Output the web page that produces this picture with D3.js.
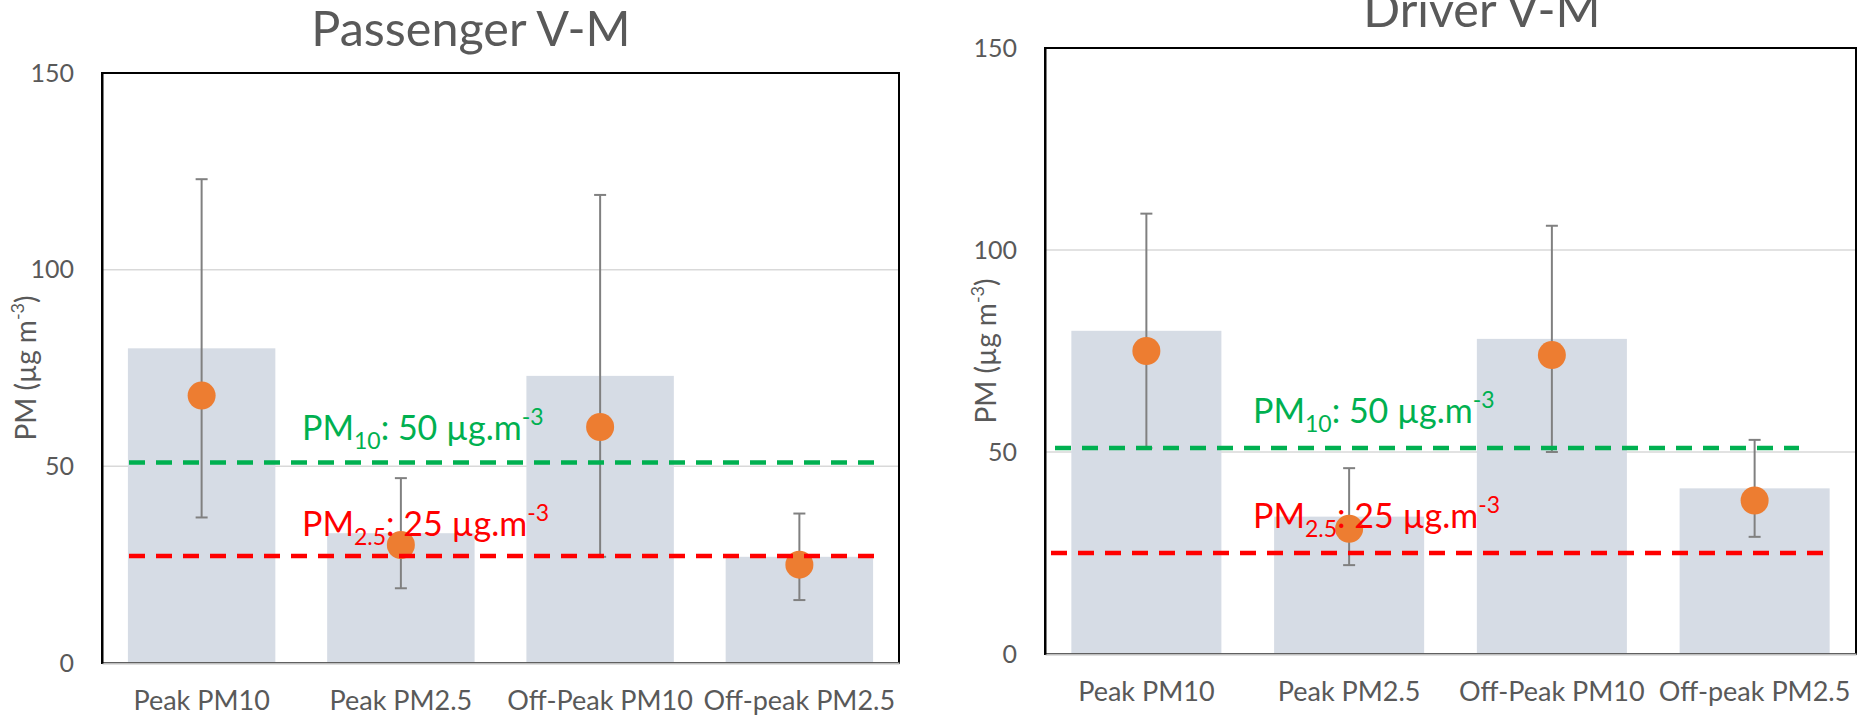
<html>
<head>
<meta charset="utf-8">
<script src="https://d3js.org/d3.v7.min.js"></script>
<style>
body { margin: 0; background: #fff; }
text { font-family: Lato, "Open Sans", sans-serif; }
</style>
</head>
<body>
<div id="chart"></div>
<script>
// categories and tick values
const categories = ["Peak PM10", "Peak PM2.5", "Off-Peak PM10", "Off-peak PM2.5"];
const yTicks = [0, 50, 100, 150];

// Passenger V-M
const passengerBars = [80, 33, 73, 27];
const passengerMeans = [68, 30, 60, 25];
const passengerHigh = [123, 47, 119, 38];
const passengerLow = [37, 19, 27, 16];
const passengerLimits = [51, 27.2];

// Driver V-M
const driverBars = [80, 34, 78, 41];
const driverMeans = [75, 31, 74, 38];
const driverHigh = [109, 46, 106, 53];
const driverLow = [51, 22, 50, 29];
const driverLimits = [51, 25];

const w = 1866, h = 718;

const svg = d3.select("#chart")
  .append("svg")
  .attr("width", w)
  .attr("height", h);

function drawChart(c) {
  const g = svg.append("g");

  const xscale = d3.scaleBand()
    .domain(categories)
    .range([c.left, c.right])
    .paddingInner(0.26)
    .paddingOuter(0.13);
  const yscale = d3.scaleLinear()
    .domain([0, 150])
    .range([c.bottom, c.top]);

  // gridlines
  g.selectAll(".grid")
    .data(yTicks.filter(d => d > 0 && d < 150))
    .enter()
    .append("line")
    .attr("x1", c.left)
    .attr("x2", c.right)
    .attr("y1", d => yscale(d))
    .attr("y2", d => yscale(d))
    .attr("stroke", "#d9d9d9")
    .attr("stroke-width", 1.5);

  // bars
  g.selectAll(".bar")
    .data(c.bars)
    .enter()
    .append("rect")
    .attr("x", (d, i) => xscale(categories[i]))
    .attr("y", d => yscale(d))
    .attr("width", xscale.bandwidth())
    .attr("height", d => yscale(0) - yscale(d))
    .attr("fill", "#d6dce5");

  // frame
  g.append("rect")
    .attr("x", c.left)
    .attr("y", c.top)
    .attr("width", c.right - c.left)
    .attr("height", c.bottom - c.top)
    .attr("fill", "none")
    .attr("stroke", "#000")
    .attr("stroke-width", 2);

  const Xaxis = d3.axisBottom(xscale).tickSize(0).tickPadding(28);
  const xa = g.append("g")
    .attr("transform", "translate(0," + c.bottom + ")")
    .call(Xaxis);
  xa.select(".domain").attr("stroke", "#bfbfbf").attr("stroke-width", 2);
  xa.selectAll("text").attr("font-size", 27).attr("fill", "#595959")
    .attr("font-family", "Lato");

  const Yaxis = d3.axisLeft(yscale).tickValues(yTicks).tickSize(0).tickPadding(28);
  const ya = g.append("g")
    .attr("transform", `translate(${c.left},0)`)
    .call(Yaxis);
  ya.select(".domain").attr("stroke", "#000").attr("stroke-width", 2);
  ya.selectAll("text").attr("font-size", 25).attr("fill", "#595959")
    .attr("font-family", "Lato");

  // error bars
  const cx = i => xscale(categories[i]) + xscale.bandwidth() / 2;
  const err = g.selectAll(".err")
    .data(c.means)
    .enter()
    .append("g");
  err.append("line")
    .attr("x1", (d, i) => cx(i)).attr("x2", (d, i) => cx(i))
    .attr("y1", (d, i) => yscale(c.high[i]))
    .attr("y2", (d, i) => yscale(c.low[i]));
  err.append("line")
    .attr("x1", (d, i) => cx(i) - 6).attr("x2", (d, i) => cx(i) + 6)
    .attr("y1", (d, i) => yscale(c.high[i]))
    .attr("y2", (d, i) => yscale(c.high[i]));
  err.append("line")
    .attr("x1", (d, i) => cx(i) - 6).attr("x2", (d, i) => cx(i) + 6)
    .attr("y1", (d, i) => yscale(c.low[i]))
    .attr("y2", (d, i) => yscale(c.low[i]));
  err.selectAll("line").attr("stroke", "#808080").attr("stroke-width", 2);

  // means
  g.selectAll(".dot")
    .data(c.means)
    .enter()
    .append("circle")
    .attr("cx", (d, i) => cx(i))
    .attr("cy", d => yscale(d))
    .attr("r", 14)
    .attr("fill", "#ed7d31");

  // guideline limits
  const colors = ["#00b050", "#ff0000"];
  c.limits.forEach((v, k) => {
    g.append("line")
      .attr("x1", c.left + c.lineSpan[k][0])
      .attr("x2", c.left + c.lineSpan[k][1])
      .attr("y1", yscale(v))
      .attr("y2", yscale(v))
      .attr("stroke", colors[k])
      .attr("stroke-width", 4.5)
      .attr("stroke-dasharray", "16,11");
  });

  const labels = [["10", ": 50 µg.m"], ["2.5", ": 25 µg.m"]];
  labels.forEach((l, k) => {
    const t = g.append("text")
      .attr("x", c.labelX)
      .attr("y", c.labelY[k])
      .attr("font-size", 34)
      .attr("fill", colors[k]);
    t.append("tspan").text("PM");
    t.append("tspan").attr("font-size", 23).attr("dy", 9).text(l[0]);
    t.append("tspan").attr("dy", -9).text(l[1]);
    t.append("tspan").attr("font-size", 23).attr("dy", -15).text("-3");
  });

  // title
  svg.append("text")
    .attr("x", c.titleX)
    .attr("y", c.titleY)
    .attr("text-anchor", "middle")
    .attr("font-size", 48.5)
    .attr("fill", "#595959")
    .text(c.title);

  // y axis title
  const yt = svg.append("text")
    .attr("transform", `translate(${c.yTitleX},${c.yTitleY}) rotate(-90)`)
    .attr("text-anchor", "middle")
    .attr("font-size", 28)
    .attr("fill", "#595959");
  yt.append("tspan").text("PM (µg m");
  yt.append("tspan").attr("font-size", 18).attr("dy", -12).text("-3");
  yt.append("tspan").attr("dy", 12).text(")");
}

drawChart({
  title: "Passenger V-M", titleX: 471, titleY: 46,
  left: 102, right: 899, top: 73, bottom: 663,
  bars: passengerBars, means: passengerMeans, high: passengerHigh, low: passengerLow,
  limits: passengerLimits, lineSpan: [[27, 772], [27, 772]],
  labelX: 302, labelY: [440, 536],
  yTitleX: 36, yTitleY: 368
});

drawChart({
  title: "Driver V-M", titleX: 1482, titleY: 27,
  left: 1045, right: 1856, top: 48, bottom: 654,
  bars: driverBars, means: driverMeans, high: driverHigh, low: driverLow,
  limits: driverLimits, lineSpan: [[10, 754], [6, 779]],
  labelX: 1253, labelY: [423, 528],
  yTitleX: 996, yTitleY: 351
});
</script>
</body>
</html>
